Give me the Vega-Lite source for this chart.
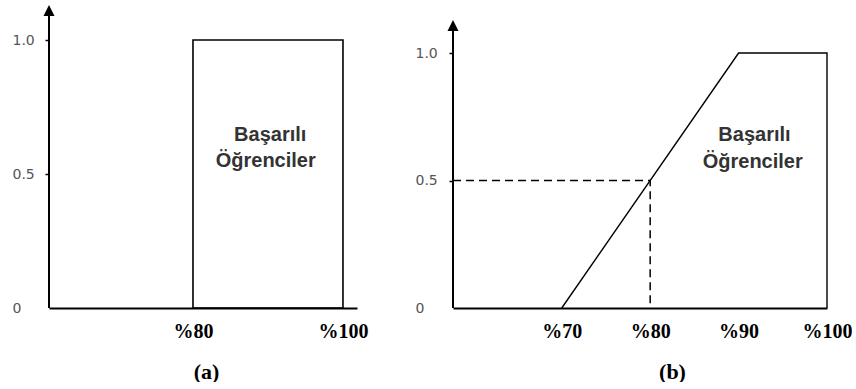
{
  "$schema": "https://vega.github.io/schema/vega-lite/v6.json",
  "padding": {"left": 12, "top": 5, "right": 0, "bottom": 0},
  "background": "white",
  "config": {"view": {"stroke": null}, "axis": {"grid": false}},
  "spacing": 96,
  "bounds": "flush",
  "hconcat": [
    {
      "width": 308,
      "height": 296,
      "layer": [
        {
          "data": {"values": [{"x": 80, "x2": 100, "y": 0, "y2": 1}]},
          "mark": {"type": "rect", "fill": "white", "fillOpacity": 0, "stroke": "black", "strokeWidth": 1.6},
          "encoding": {
            "x": {
              "field": "x", "type": "quantitative",
              "scale": {"domain": [60.8, 101.87], "nice": false, "zero": false},
              "axis": {
                "values": [80, 100], "labelExpr": "'%' + datum.value",
                "domain": true, "domainColor": "black", "domainWidth": 2,
                "ticks": false, "tickSize": 0, "labelPadding": 13, "labelDx": -7,
                "labelFont": "Liberation Serif", "labelFontSize": 20, "labelFontWeight": "bold", "labelColor": "black",
                "title": "(a)", "titleFont": "Liberation Serif", "titleFontSize": 22, "titleFontWeight": "bold", "titleColor": "black",
                "titleX": 157, "titleY": 63, "titleBaseline": "middle", "titleAlign": "center"
              }
            },
            "x2": {"field": "x2"},
            "y": {
              "field": "y", "type": "quantitative",
              "scale": {"domain": [0, 1.1045], "nice": false},
              "axis": {
                "values": [0, 0.5, 1], "labelExpr": "datum.value == 0 ? '0' : format(datum.value, '.1f')",
                "domain": false, "ticks": true, "tickSize": 4, "tickWidth": 1.5, "tickColor": "black",
                "tickOpacity": {"condition": {"test": "datum.value == 0", "value": 0}, "value": 1},
                "labelAlign": "left", "labelPadding": 33,
                "labelFont": "DejaVu Sans", "labelFontSize": 14, "labelColor": "#555",
                "title": null
              }
            },
            "y2": {"field": "y2"}
          }
        },
        {
          "data": {"values": [{"x": 60.8, "y": 0, "y2": 1.09}]},
          "mark": {"type": "rule", "color": "black", "strokeWidth": 2},
          "encoding": {
            "x": {"field": "x", "type": "quantitative"},
            "y": {"field": "y", "type": "quantitative"},
            "y2": {"field": "y2"}
          }
        },
        {
          "data": {"values": [{"x": 60.8, "y": 1.11}]},
          "mark": {"type": "point", "shape": "M0,-1L1,1L-1,1Z", "size": 121, "filled": true, "color": "black", "opacity": 1, "strokeWidth": 0},
          "encoding": {
            "x": {"field": "x", "type": "quantitative"},
            "y": {"field": "y", "type": "quantitative"}
          }
        },
        {
          "data": {"values": [{"t": "Başarılı", "x": 90.3, "y": 0.6455}, {"t": "Öğrenciler", "x": 89.7, "y": 0.5485}]},
          "mark": {"type": "text", "font": "Liberation Sans", "fontWeight": "bold", "fontSize": 20, "color": "#333", "baseline": "middle", "align": "center"},
          "encoding": {
            "x": {"field": "x", "type": "quantitative"},
            "y": {"field": "y", "type": "quantitative"},
            "text": {"field": "t"}
          }
        }
      ]
    },
    {
      "width": 374,
      "height": 296,
      "layer": [
        {
          "data": {"values": [{"i": 1, "x": 70, "y": 0}, {"i": 2, "x": 90, "y": 1}, {"i": 3, "x": 100, "y": 1}, {"i": 4, "x": 100, "y": 0}]},
          "mark": {"type": "line", "color": "black", "strokeWidth": 1.4},
          "encoding": {
            "x": {
              "field": "x", "type": "quantitative",
              "scale": {"domain": [57.7, 100], "nice": false, "zero": false},
              "axis": {
                "values": [70, 80, 90, 100], "labelExpr": "'%' + datum.value",
                "domain": true, "domainColor": "black", "domainWidth": 2,
                "ticks": false, "tickSize": 0, "labelPadding": 13,
                "labelFont": "Liberation Serif", "labelFontSize": 20, "labelFontWeight": "bold", "labelColor": "black",
                "labelFlush": false, "labelOverlap": false,
                "title": "(b)", "titleFont": "Liberation Serif", "titleFontSize": 22, "titleFontWeight": "bold", "titleColor": "black",
                "titleX": 219, "titleY": 63, "titleBaseline": "middle", "titleAlign": "center"
              }
            },
            "y": {
              "field": "y", "type": "quantitative",
              "scale": {"domain": [0, 1.1608], "nice": false},
              "axis": {
                "values": [0, 0.5, 1], "labelExpr": "datum.value == 0 ? '0' : format(datum.value, '.1f')",
                "domain": false, "ticks": true, "tickSize": 4, "tickWidth": 1.5, "tickColor": "black",
                "tickOpacity": {"condition": {"test": "datum.value == 0", "value": 0}, "value": 1},
                "labelAlign": "left", "labelPadding": 34,
                "labelFont": "DejaVu Sans", "labelFontSize": 14, "labelColor": "#555",
                "title": null
              }
            },
            "order": {"field": "i", "type": "quantitative"}
          }
        },
        {
          "data": {"values": [{"i": 1, "x": 57.7, "y": 0.5}, {"i": 2, "x": 80, "y": 0.5}, {"i": 3, "x": 80, "y": 0}]},
          "mark": {"type": "line", "color": "black", "strokeWidth": 1.5, "strokeDash": [8, 5]},
          "encoding": {
            "x": {"field": "x", "type": "quantitative"},
            "y": {"field": "y", "type": "quantitative"},
            "order": {"field": "i", "type": "quantitative"}
          }
        },
        {
          "data": {"values": [{"x": 57.7, "y": 0, "y2": 1.086}]},
          "mark": {"type": "rule", "color": "black", "strokeWidth": 2},
          "encoding": {
            "x": {"field": "x", "type": "quantitative"},
            "y": {"field": "y", "type": "quantitative"},
            "y2": {"field": "y2"}
          }
        },
        {
          "data": {"values": [{"x": 57.7, "y": 1.108}]},
          "mark": {"type": "point", "shape": "M0,-1L1,1L-1,1Z", "size": 121, "filled": true, "color": "black", "opacity": 1, "strokeWidth": 0},
          "encoding": {
            "x": {"field": "x", "type": "quantitative"},
            "y": {"field": "y", "type": "quantitative"}
          }
        },
        {
          "data": {"values": [{"t": "Başarılı", "x": 91.8, "y": 0.678}, {"t": "Öğrenciler", "x": 91.6, "y": 0.5725}]},
          "mark": {"type": "text", "font": "Liberation Sans", "fontWeight": "bold", "fontSize": 20, "color": "#333", "baseline": "middle", "align": "center"},
          "encoding": {
            "x": {"field": "x", "type": "quantitative"},
            "y": {"field": "y", "type": "quantitative"},
            "text": {"field": "t"}
          }
        }
      ]
    }
  ]
}
